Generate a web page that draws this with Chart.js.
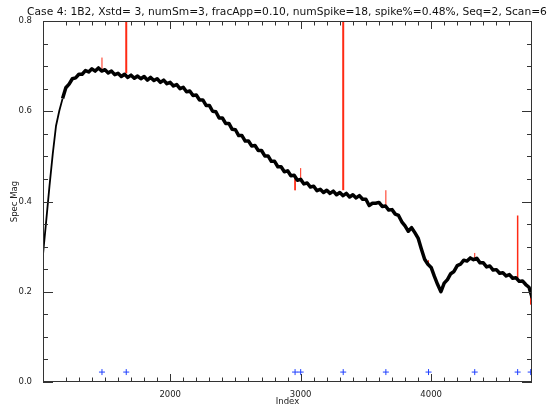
<!DOCTYPE html>
<html>
<head>
<meta charset="utf-8">
<script src="https://cdn.jsdelivr.net/npm/chart.js@4.4.0/dist/chart.umd.min.js"></script>
<style>
  html, body { margin: 0; padding: 0; background: #fff; }
</style>
</head>
<body>
<canvas id="chart" width="550" height="406"></canvas>
<script>
const titleText = 'Case 4: 1B2, Xstd= 3, numSm=3, fracApp=0.10, numSpike=18, spike%=0.48%, Seq=2, Scan=6';

// cleaned spectrum, one value every 25 index steps from 1025
const indexStart = 1025;
const indexStep = 25;
const specMag = [
  0.283, 0.358, 0.435, 0.506, 0.568, 0.601, 0.628, 0.652, 0.660, 0.672,
  0.674, 0.682, 0.682, 0.690, 0.687, 0.694, 0.689, 0.696, 0.689, 0.692,
  0.685, 0.689, 0.681, 0.684, 0.677, 0.682, 0.675, 0.680, 0.673, 0.678,
  0.672, 0.677, 0.669, 0.675, 0.668, 0.672, 0.664, 0.669, 0.661, 0.664,
  0.656, 0.659, 0.650, 0.653, 0.643, 0.645, 0.635, 0.636, 0.625, 0.625,
  0.613, 0.613, 0.600, 0.599, 0.585, 0.585, 0.573, 0.573, 0.560, 0.559,
  0.546, 0.546, 0.534, 0.534, 0.523, 0.524, 0.513, 0.513, 0.501, 0.501,
  0.489, 0.489, 0.477, 0.477, 0.466, 0.468, 0.457, 0.458, 0.447, 0.449,
  0.439, 0.441, 0.432, 0.434, 0.424, 0.427, 0.420, 0.425, 0.418, 0.423,
  0.415, 0.420, 0.413, 0.418, 0.410, 0.415, 0.408, 0.413, 0.405, 0.405,
  0.391, 0.396, 0.396, 0.398, 0.389, 0.390, 0.381, 0.382, 0.372, 0.369,
  0.355, 0.346, 0.334, 0.342, 0.331, 0.319, 0.295, 0.272, 0.261, 0.254,
  0.234, 0.216, 0.200, 0.219, 0.227, 0.240, 0.245, 0.258, 0.261, 0.270,
  0.268, 0.275, 0.271, 0.274, 0.264, 0.264, 0.255, 0.257, 0.248, 0.249,
  0.241, 0.242, 0.235, 0.238, 0.230, 0.231, 0.223, 0.224, 0.216, 0.210,
  0.186
];

// spikes in the raw data (red) and where they were flagged (blue +)
const spikeIndex = [1477, 1663, 2957, 3000, 3326, 3653, 3980, 4334, 4663, 4763];
const spikeBase  = [0.690, 0.684, 0.455, 0.446, 0.425, 0.390, 0.256, 0.272, 0.230, 0.200];
const spikeTop   = [0.719, 0.860, 0.425, 0.474, 0.860, 0.425, 0.270, 0.286, 0.369, 0.172];
const spikeWidth = [1, 2, 1, 1, 2, 1, 1, 1, 1.5, 1];
const flagLevel = 0.022;

const xMin = 1025, xMax = 4773;
const yMin = 0, yMax = 0.8;

const tickFont = { family: 'DejaVu Sans', size: 8.5 };
const axisColor = '#333';

const datasets = [];
datasets.push({
  label: 'clean',
  data: specMag.map((v, i) => ({ x: indexStart + i * indexStep, y: v })),
  borderColor: '#000',
  borderWidth: 3.5,
  borderJoinStyle: 'round',
  segment: {
    // the steep rise at the start is much less noisy
    borderWidth: c => (c.p0.parsed.x < 1160 ? 1.8 : 3.5)
  },
  pointRadius: 0,
  order: 1
});
spikeIndex.forEach((ix, i) => {
  datasets.push({
    label: 'spike' + i,
    data: [{ x: ix, y: spikeBase[i] }, { x: ix, y: spikeTop[i] }],
    borderColor: '#ff2a14',
    borderWidth: spikeWidth[i],
    pointRadius: 0,
    order: 2
  });
});
datasets.push({
  label: 'flag',
  data: spikeIndex.map(ix => ({ x: ix, y: flagLevel })),
  showLine: false,
  pointStyle: 'cross',
  pointRadius: 3,
  borderColor: '#2040ff',
  borderWidth: 1,
  order: 0
});

// IDL style box with inward ticks on all four sides, plus the title
const boxTicks = {
  id: 'boxTicks',
  afterDraw(chart) {
    const { ctx, chartArea: a, scales: { x, y } } = chart;
    ctx.save();
    ctx.strokeStyle = axisColor;
    ctx.lineWidth = 1;
    ctx.strokeRect(a.left + 0.5, a.top + 0.5, a.right - a.left - 1, a.bottom - a.top - 1);
    ctx.beginPath();
    x.ticks.forEach(t => {
      if (t.value % 100 !== 0) return;
      const px = Math.round(x.getPixelForValue(t.value)) + 0.5;
      const len = t.value % 1000 === 0 ? 8 : 4.5;
      ctx.moveTo(px, a.bottom); ctx.lineTo(px, a.bottom - len);
      ctx.moveTo(px, a.top); ctx.lineTo(px, a.top + len);
    });
    y.ticks.forEach(t => {
      const py = Math.round(y.getPixelForValue(t.value)) + 0.5;
      const major = Math.round(t.value * 20) % 4 === 0;
      const len = major ? 10 : 5;
      ctx.moveTo(a.left, py); ctx.lineTo(a.left + len, py);
      ctx.moveTo(a.right, py); ctx.lineTo(a.right - len, py);
    });
    ctx.stroke();
    ctx.fillStyle = '#111';
    ctx.font = '10.7px "DejaVu Sans"';
    ctx.textAlign = 'center';
    ctx.textBaseline = 'middle';
    ctx.fillText(titleText, 287, 12);
    ctx.restore();
  }
};

new Chart(document.getElementById('chart'), {
  type: 'line',
  data: { datasets },
  plugins: [boxTicks],
  options: {
    responsive: false,
    animation: false,
    devicePixelRatio: 1,
    layout: { padding: { top: 21, right: 18, bottom: 0, left: 0 } },
    plugins: { legend: { display: false }, tooltip: { enabled: false } },
    elements: { line: { tension: 0 } },
    scales: {
      x: {
        type: 'linear',
        min: xMin,
        max: xMax,
        grid: { display: false },
        border: { display: false },
        ticks: {
          stepSize: 100,
          autoSkip: false,
          maxRotation: 0,
          padding: 0,
          color: '#222',
          font: tickFont,
          callback: v => (v % 1000 === 0 ? String(v) : '')
        },
        title: { display: true, text: 'Index', color: '#222', font: { family: 'DejaVu Sans', size: 8.5, lineHeight: 1 }, padding: { top: 0, bottom: 0 } },
        afterFit: s => { s.height = 24; }
      },
      y: {
        type: 'linear',
        min: yMin,
        max: yMax,
        grid: { display: false },
        border: { display: false },
        ticks: {
          stepSize: 0.05,
          autoSkip: false,
          padding: 3,
          color: '#222',
          font: tickFont,
          callback: v => (Math.round(v * 20) % 4 === 0 ? v.toFixed(1) : '')
        },
        title: { display: true, text: 'Spec Mag', color: '#222', font: { family: 'DejaVu Sans', size: 8.5, lineHeight: 1 }, padding: { top: 10.5, bottom: 0 } },
        afterFit: s => { s.width = 43; }
      }
    }
  }
});
</script>
</body>
</html>
